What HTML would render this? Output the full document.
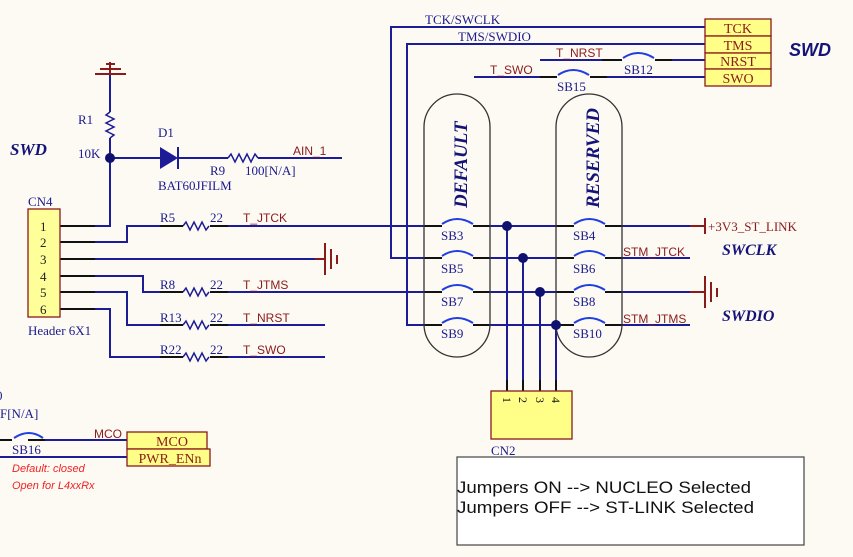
<!DOCTYPE html>
<html><head><meta charset="utf-8"><style>
html,body{margin:0;padding:0;background:#fdfaf4;}
svg{display:block;}
.s{font-family:"Liberation Serif",serif;fill:#1a1a8c;font-size:13px;}
.r{font-family:"Liberation Sans",sans-serif;fill:#8b1a1a;font-size:12px;}
.bi{font-family:"Liberation Serif",serif;font-weight:bold;font-style:italic;fill:#141478;}
.bs{font-family:"Liberation Sans",sans-serif;font-weight:bold;font-style:italic;fill:#141478;}
.pn{font-family:"Liberation Serif",serif;fill:#8b1a1a;font-size:14px;}
</style></head><body>
<svg width="853" height="557" viewBox="0 0 853 557" xmlns="http://www.w3.org/2000/svg">
<rect width="853" height="557" fill="#fdfaf4"/>
<g fill="none" stroke="#1c1c96" stroke-width="2">
<path d="M110 75V112 M110 138V158 M110 158H160 M178 158H228 M258 158H342"/>
<path d="M110 112l-4 3 8 4-8 4 8 4-8 4 8 4-4 3" stroke-width="1.5"/>
<path d="M228 158l3-4 4 8 4-8 4 8 4-8 4 8 4-8 3 4" stroke-width="1.5"/>
<path d="M95 226H110V158"/>
<path d="M95 242H127V226H183 M210 226H440"/>
<path d="M95 259H315"/>
<path d="M95 276H143V292H183 M210 292H440"/>
<path d="M95 292H127V325H183 M210 325H325"/>
<path d="M95 309H110V357H183 M210 357H325"/>
<path d="M183 226l3-4 4 8 4-8 4 8 4-8 4 8 3-4 M183 292l3-4 4 8 4-8 4 8 4-8 4 8 3-4 M183 325l3-4 4 8 4-8 4 8 4-8 4 8 3-4 M183 357l3-4 4 8 4-8 4 8 4-8 4 8 3-4" stroke-width="1.5"/>
<path d="M705 27H391V258H440 M705 44H407V325H440"/>
<path d="M540 60H620 M660 60H705 M474 77H540 M607 77H705"/>
<path d="M490 226H574 M622 226H690 M490 258H574 M622 258H690 M490 292H574 M622 292H690 M490 325H574 M622 325H690"/>
<path d="M507 226V391 M523 258V391 M540 292V391 M556 325V391"/>
<path d="M45 440H127 M0 457H127"/>
</g>
<g stroke="#111" stroke-width="2">
<path d="M60 226H95M60 242H95M60 259H95M60 276H95M60 292H95M60 309H95"/>
<path d="M160 226H183M210 226H228M160 292H183M210 292H228M160 325H183M210 325H228M160 357H183M210 357H228"/>
<path d="M424 226H442M473 226H490M424 258H442M473 258H490M424 292H442M473 292H490M424 325H442M473 325H490"/>
<path d="M556 226H574M605 226H622M556 258H574M605 258H622M556 292H574M605 292H622M556 325H574M605 325H622"/>
<path d="M602 60H622M655 60H672M540 77H557M590 77H607M0 440H12M28 440H45"/>
<path d="M507 380V391M523 380V391M540 380V391M556 380V391"/>
</g>
<g fill="none" stroke="#1f3fe0" stroke-width="2">
<path d="M442 224q15-10 31 0M442 256q15-10 31 0M442 290q15-10 31 0M442 323q15-10 31 0"/>
<path d="M574 224q15-10 31 0M574 256q15-10 31 0M574 290q15-10 31 0M574 323q15-10 31 0"/>
<path d="M623 58q15-10 31 0M558 75q15-10 31 0M14 438q15-10 29 0"/>
</g>
<rect x="424" y="94" width="66" height="263" rx="33" fill="none" stroke="#333" stroke-width="1.3"/>
<rect x="556" y="94" width="66" height="263" rx="33" fill="none" stroke="#333" stroke-width="1.3"/>
<g fill="#10106e"><circle cx="110" cy="158" r="5"/><circle cx="507" cy="226" r="5"/><circle cx="523" cy="258" r="5"/><circle cx="540" cy="292" r="5"/><circle cx="556" cy="325" r="5"/></g>
<path d="M160 147L178 158L160 169Z" fill="#1c1c96"/><path d="M178 147V169" stroke="#1c1c96" stroke-width="2"/>
<g stroke="#8b1a1a" stroke-width="2" fill="none">
<path d="M110 62V75M95 74H126M100 69H121M106 64H115"/>
<path d="M315 259H325M325 243V275M331 249V269M337 255V264"/>
<path d="M690 292H705M705 276V308M711 282V302M717 288V297"/>
<path d="M690 226H705M705 218V234"/>
</g>
<rect x="28" y="209" width="32" height="108" fill="#ffff99" stroke="#8b1a1a" stroke-width="1.3"/>
<g font-family="Liberation Serif,serif" font-size="13" fill="#222"><text x="40" y="231">1</text><text x="40" y="247">2</text><text x="40" y="264">3</text><text x="40" y="281">4</text><text x="40" y="297">5</text><text x="40" y="314">6</text></g>
<g fill="#ffff88" stroke="#8b1a1a" stroke-width="1.3">
<rect x="705" y="19" width="66" height="17"/><rect x="705" y="36" width="66" height="17"/><rect x="705" y="53" width="66" height="16"/><rect x="705" y="69" width="66" height="17"/>
<rect x="127" y="432" width="80" height="17"/><rect x="127" y="449" width="83" height="17"/>
<rect x="491" y="391" width="81" height="48"/>
</g>
<g class="pn" text-anchor="middle"><text x="738" y="33">TCK</text><text x="738" y="50">TMS</text><text x="738" y="66">NRST</text><text x="738" y="83">SWO</text>
<text x="172" y="446">MCO</text><text x="170" y="463">PWR_ENn</text></g>
<g font-family="Liberation Serif,serif" font-size="12" fill="#111"><text transform="translate(503,397) rotate(90)">1</text><text transform="translate(519,397) rotate(90)">2</text><text transform="translate(536,397) rotate(90)">3</text><text transform="translate(552,397) rotate(90)">4</text></g>
<g class="s">
<text x="78" y="124">R1</text><text x="78" y="158">10K</text><text x="158" y="137">D1</text><text x="158" y="190">BAT60JFILM</text>
<text x="210" y="175">R9</text><text x="245" y="175">100[N/A]</text>
<text x="28" y="206">CN4</text><text x="28" y="335">Header 6X1</text>
<text x="160" y="222">R5</text><text x="210" y="222">22</text><text x="160" y="289">R8</text><text x="210" y="289">22</text>
<text x="160" y="322">R13</text><text x="210" y="322">22</text><text x="160" y="354">R22</text><text x="210" y="354">22</text>
<text x="425" y="24">TCK/SWCLK</text><text x="458" y="41">TMS/SWDIO</text>
<text x="624" y="74">SB12</text><text x="557" y="91">SB15</text>
<text x="441" y="240">SB3</text><text x="441" y="273">SB5</text><text x="441" y="306">SB7</text><text x="441" y="338">SB9</text>
<text x="573" y="240">SB4</text><text x="573" y="273">SB6</text><text x="573" y="306">SB8</text><text x="573" y="338">SB10</text>
<text x="12" y="454">SB16</text><text x="0" y="418">F[N/A]</text><text x="491" y="455">CN2</text>
</g>
<text x="-4" y="400" class="s">0</text>
<g class="r"><text x="293" y="155">AIN_1</text><text x="243" y="222">T_JTCK</text><text x="243" y="289">T_JTMS</text><text x="243" y="322">T_NRST</text><text x="243" y="354">T_SWO</text>
<text x="556" y="57">T_NRST</text><text x="490" y="74">T_SWO</text><text x="623" y="256">STM_JTCK</text><text x="623" y="323">STM_JTMS</text><text x="94" y="438">MCO</text></g>
<text x="708" y="231" class="s" style="fill:#8b1a1a">+3V3_ST_LINK</text>
<text x="10" y="155" class="bi" font-size="17">SWD</text>
<text x="789" y="56" class="bs" font-size="18">SWD</text>
<text x="722" y="255" class="bi" font-size="16">SWCLK</text>
<text x="722" y="321" class="bi" font-size="16">SWDIO</text>
<text transform="translate(467,208) rotate(-90)" class="bi" font-size="19">DEFAULT</text>
<text transform="translate(599,208) rotate(-90)" class="bi" font-size="19">RESERVED</text>
<g font-family="Liberation Sans,sans-serif" font-style="italic" font-size="11" fill="#ee2222"><text x="12" y="472">Default: closed</text><text x="12" y="489">Open for L4xxRx</text></g>
<rect x="457" y="457" width="347" height="88" fill="#fff" stroke="#444" stroke-width="1.2"/>
<g font-family="Liberation Sans,sans-serif" font-size="17" fill="#111"><text x="457" y="493" textLength="294" lengthAdjust="spacingAndGlyphs">Jumpers ON  --&gt; NUCLEO Selected</text><text x="457" y="513" textLength="297" lengthAdjust="spacingAndGlyphs">Jumpers OFF --&gt; ST-LINK Selected</text></g>
</svg>
</body></html>
